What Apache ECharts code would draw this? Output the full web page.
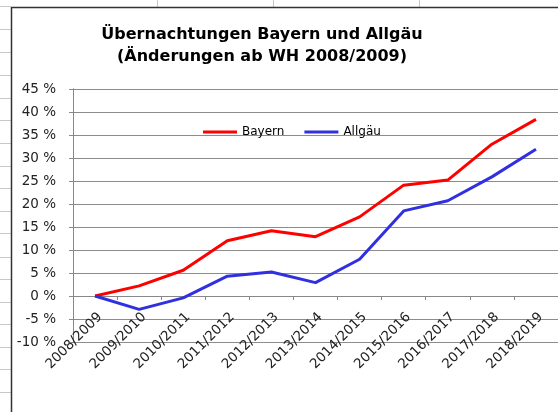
<!DOCTYPE html>
<html>
<head>
<meta charset="utf-8">
<script src="https://cdn.jsdelivr.net/npm/echarts@6/dist/echarts.min.js"></script>
<style>
html,body{margin:0;padding:0;background:#fff;}
#c{width:558px;height:412px;}
</style>
</head>
<body>
<div id="c"></div>
<script>
const categories = ['2008/2009','2009/2010','2010/2011','2011/2012','2012/2013','2013/2014','2014/2015','2015/2016','2016/2017','2017/2018','2018/2019'];
const bayern = [0, 2.2, 5.6, 12.0, 14.2, 12.9, 17.2, 24.1, 25.2, 33.0, 38.4];
const allgaeu = [0, -2.9, -0.4, 4.3, 5.2, 2.9, 8.0, 18.5, 20.7, 25.9, 31.9];
const yTicks = [-10, -5, 0, 5, 10, 15, 20, 25, 30, 35, 40, 45];
const titleLines = ['Übernachtungen Bayern und Allgäu', '(Änderungen ab WH 2008/2009)'];

const FONT = 'DejaVu Sans';
const yMin = yTicks[0], yMax = yTicks[yTicks.length - 1], yStep = yTicks[1] - yTicks[0];

// spreadsheet decoration
const deco = [];
const rowYs = [6, 29, 52, 75, 98, 120, 143, 166, 188, 211, 233, 257, 279, 302, 324, 347, 369, 392];
rowYs.forEach(y => deco.push({type:'line', shape:{x1:0,y1:y+0.5,x2:11,y2:y+0.5}, style:{stroke:'#c8c8c8',lineWidth:1}, silent:true}));
[157, 273, 419].forEach(x => deco.push({type:'line', shape:{x1:x+0.5,y1:0,x2:x+0.5,y2:7}, style:{stroke:'#c8c8c8',lineWidth:1}, silent:true}));
deco.push({type:'line', shape:{x1:11.5,y1:7,x2:11.5,y2:412}, style:{stroke:'#333',lineWidth:1.5}, silent:true});
deco.push({type:'line', shape:{x1:11,y1:7.5,x2:558,y2:7.5}, style:{stroke:'#333',lineWidth:1.5}, silent:true});

const chart = echarts.init(document.getElementById('c'), null, {renderer:'canvas'});
chart.setOption({
  animation: false,
  backgroundColor: '#fff',
  title: {
    text: titleLines.join('\n'),
    left: 257,
    top: 19,
    textAlign: 'center',
    textStyle: {fontFamily: FONT, fontWeight: 'bold', fontSize: 16, color: '#000', lineHeight: 22}
  },
  legend: {
    left: 203,
    top: 126,
    padding: 0,
    icon: 'rect',
    itemWidth: 34,
    itemHeight: 3,
    itemGap: 20,
    textStyle: {fontFamily: FONT, fontSize: 12, color: '#000'},
    data: ['Bayern', 'Allgäu']
  },
  grid: {left: 73, top: 89, right: -2, bottom: 70},
  xAxis: {
    type: 'category',
    data: categories,
    boundaryGap: true,
    axisLine: {onZero: true, lineStyle: {color: '#888', width: 1}},
    axisTick: {show: true, length: 4, lineStyle: {color: '#888'}},
    axisLabel: {rotate: 45, margin: -22, padding: [0, -7, 0, 0], fontFamily: FONT, fontSize: 13.5, color: '#222'},
    splitLine: {show: false}
  },
  yAxis: [{
    type: 'value',
    min: yMin, max: yMax, interval: yStep,
    axisLine: {show: true, lineStyle: {color: '#888'}},
    axisTick: {show: true, length: 4, lineStyle: {color: '#888'}},
    axisLabel: {margin: 17, fontFamily: FONT, fontSize: 13.5, color: '#222', formatter: v => v + ' %'},
    splitLine: {lineStyle: {color: '#8c8c8c', width: 1}}
  }, {
    type: 'value',
    position: 'left',
    min: yMin, max: yMax, interval: yStep,
    axisLine: {show: true, lineStyle: {color: '#888'}},
    axisTick: {show: true, inside: true, length: 4, lineStyle: {color: '#888'}},
    axisLabel: {show: false},
    splitLine: {show: false}
  }],
  graphic: deco,
  series: [
    {name: 'Bayern', type: 'line', data: bayern, symbol: 'none', lineStyle: {color: '#ff0000', width: 3}, itemStyle: {color: '#ff0000'}},
    {name: 'Allgäu', type: 'line', data: allgaeu, symbol: 'none', lineStyle: {color: '#3030e0', width: 3}, itemStyle: {color: '#3030e0'}}
  ]
});
</script>
</body>
</html>
